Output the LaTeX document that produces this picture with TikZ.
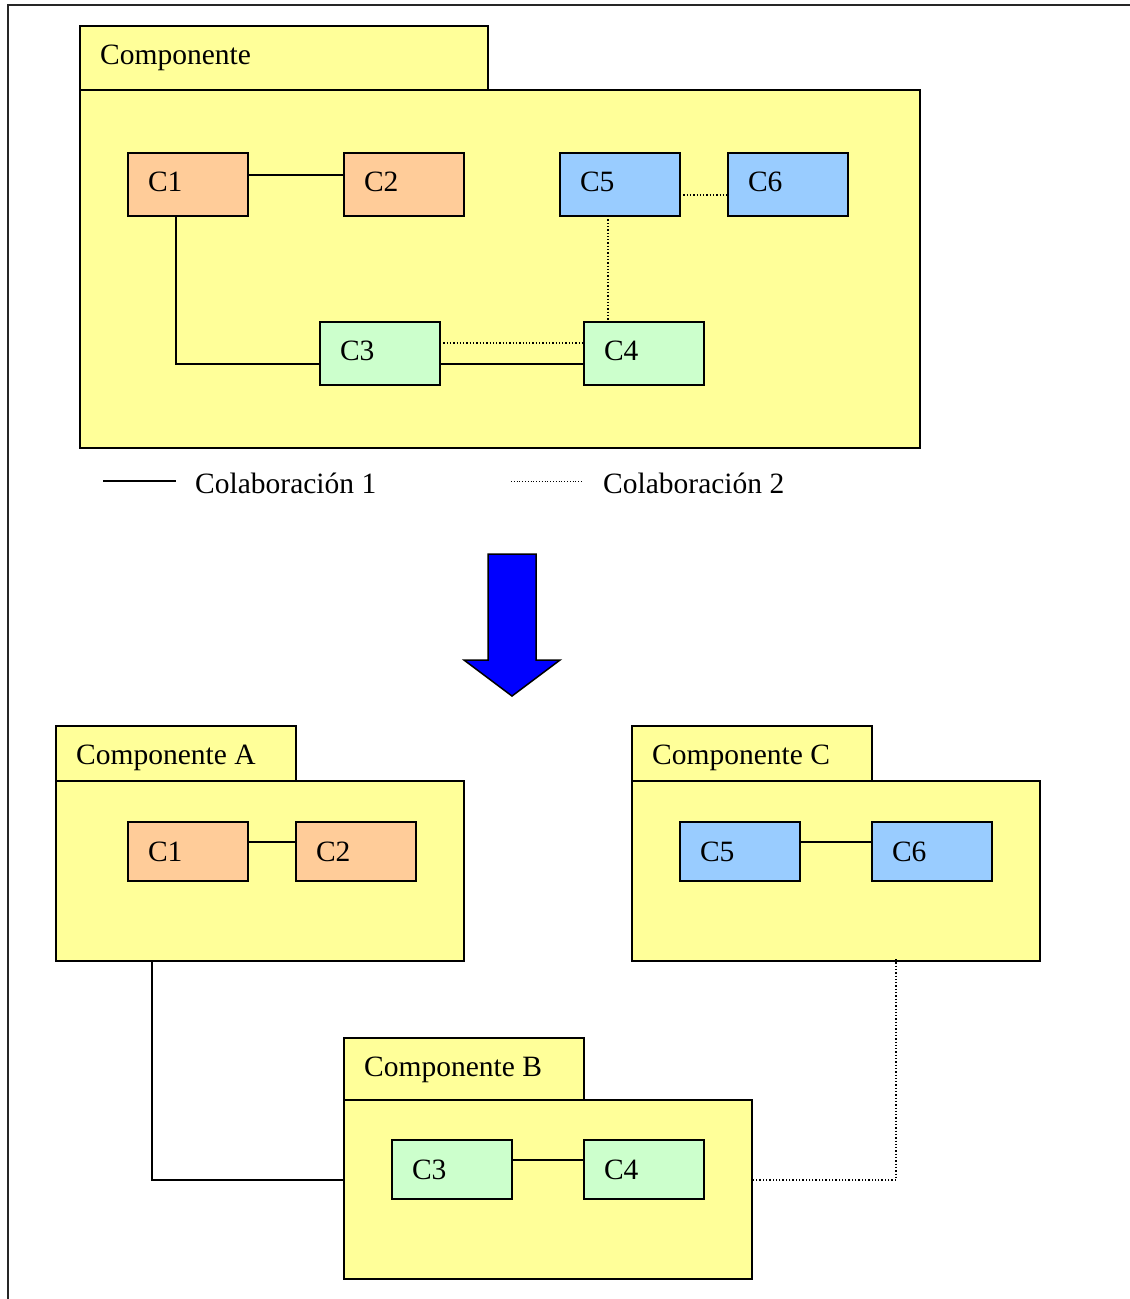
\documentclass[tikz,border=0pt]{standalone}
\usepackage{fontspec}
\setmainfont{Liberation Serif}
\begin{document}
\begin{tikzpicture}[x=1pt,y=-1pt,
  font=\fontsize{29.5}{34}\selectfont,
  frameline/.style={line width=2pt,black!85},
  pkg/.style={draw,line width=1.5pt,fill=pkgyellow,anchor=north west,
    inner sep=0pt,outer sep=0pt},
  pkgtitle/.style={anchor=base west,inner sep=0pt},
  comp/.style={draw,line width=1.5pt,anchor=north west,inner xsep=20pt,inner ysep=0pt,
    outer sep=0pt,text width=80pt,minimum width=120pt,align=left},
  raisedlabel/.style={text height=20pt,text depth=6pt},
  orangec/.style={comp,fill=comporange},
  bluec/.style={comp,fill=compblue},
  greenc/.style={comp,fill=compgreen},
  collabone/.style={line width=1.5pt},
  collabtwo/.style={line width=1.3pt,dotted},
]
\definecolor{pkgyellow}{HTML}{FFFF99}
\definecolor{comporange}{HTML}{FFCC99}
\definecolor{compblue}{HTML}{99CCFF}
\definecolor{compgreen}{HTML}{CCFFCC}
\definecolor{arrowblue}{HTML}{0000FF}

\useasboundingbox (0,0) rectangle (1130,1299);

% page frame (top and left edges)
\draw[frameline] (1130,5) -- (8,5) -- (8,1299);

% ---------- original component ----------
\node[pkg,minimum width=408pt,minimum height=64pt] (topTab) at (80,26) {};
\node[pkgtitle] (topTitle) at (100,64) {Componente};
\node[pkg,minimum width=840pt,minimum height=358pt] (topBody) at (80,90) {};

\node[orangec,raisedlabel,minimum height=63pt] (tC1) at (128,153) {C1};
\node[orangec,raisedlabel,minimum height=63pt] (tC2) at (344,153) {C2};
\node[bluec,raisedlabel,minimum height=63pt]   (tC5) at (560,153) {C5};
\node[bluec,raisedlabel,minimum height=63pt]   (tC6) at (728,153) {C6};
\node[greenc,raisedlabel,minimum height=63pt]  (tC3) at (320,322) {C3};
\node[greenc,raisedlabel,minimum height=63pt]  (tC4) at (584,322) {C4};

\draw[collabone] ([yshift=9.5]tC1.east) -- ([yshift=9.5]tC2.west);
\draw[collabone] ([xshift=48]tC1.south west) |- ([yshift=-10.5]tC3.west);
\draw[collabone] ([yshift=-10.5]tC3.east) -- ([yshift=-10.5]tC4.west);
\draw[collabtwo] ([yshift=10.5]tC3.east) -- ([yshift=10.5]tC4.west);
\draw[collabtwo] ([xshift=48]tC5.south west) -- ([xshift=24]tC4.north west);
\draw[collabtwo] ([yshift=-10.5]tC5.east) -- ([yshift=-10.5]tC6.west);

% legend
\coordinate (legOneA) at (103,481);
\coordinate (legOneB) at (176,481);
\coordinate (legTwoA) at (511,481);
\coordinate (legTwoB) at (582,481);
\draw[collabone] (legOneA) -- (legOneB);
\draw[line width=0.8pt,dotted] (legTwoA) -- (legTwoB);
\node[anchor=west,inner sep=0pt] (legOneText) at (195,483) {Colaboración 1};
\node[anchor=west,inner sep=0pt] (legTwoText) at (603,483) {Colaboración 2};

% refinement arrow
\draw[line width=1.5pt,fill=arrowblue,line join=miter]
  (488,554) -- (536,554) -- (536,660) -- (560,660) -- (512,696)
  -- (464,660) -- (488,660) -- cycle;

% ---------- Componente A ----------
\node[pkg,minimum width=240pt,minimum height=55pt] (aTab) at (56,726) {};
\node[pkgtitle] (aTitle) at (76,764) {Componente A};
\node[pkg,minimum width=408pt,minimum height=180pt] (aBody) at (56,781) {};
\node[orangec,minimum height=59pt] (aC1) at (128,822) {C1};
\node[orangec,minimum height=59pt] (aC2) at (296,822) {C2};
\draw[collabone] ([yshift=9.5]aC1.east) -- ([yshift=9.5]aC2.west);

% ---------- Componente C ----------
\node[pkg,minimum width=240pt,minimum height=55pt] (cTab) at (632,726) {};
\node[pkgtitle] (cTitle) at (652,764) {Componente C};
\node[pkg,minimum width=408pt,minimum height=180pt] (cBody) at (632,781) {};
\node[bluec,minimum height=59pt] (cC5) at (680,822) {C5};
\node[bluec,minimum height=59pt] (cC6) at (872,822) {C6};
\draw[collabone] ([yshift=9.5]cC5.east) -- ([yshift=9.5]cC6.west);

% ---------- Componente B ----------
\node[pkg,minimum width=240pt,minimum height=62pt] (bTab) at (344,1038) {};
\node[pkgtitle] (bTitle) at (364,1076) {Componente B};
\node[pkg,minimum width=408pt,minimum height=179pt] (bBody) at (344,1100) {};
\node[greenc,minimum height=59pt] (bC3) at (392,1140) {C3};
\node[greenc,minimum height=59pt] (bC4) at (584,1140) {C4};
\draw[collabone] ([yshift=9.5]bC3.east) -- ([yshift=9.5]bC4.west);

% collaborations between the new components
\draw[collabone] ([xshift=96]aBody.south west) |- ([yshift=9.5]bBody.west);
\draw[collabtwo] ([xshift=264,yshift=2]cBody.south west) |- ([yshift=9.5]bBody.east);
\end{tikzpicture}
\end{document}
